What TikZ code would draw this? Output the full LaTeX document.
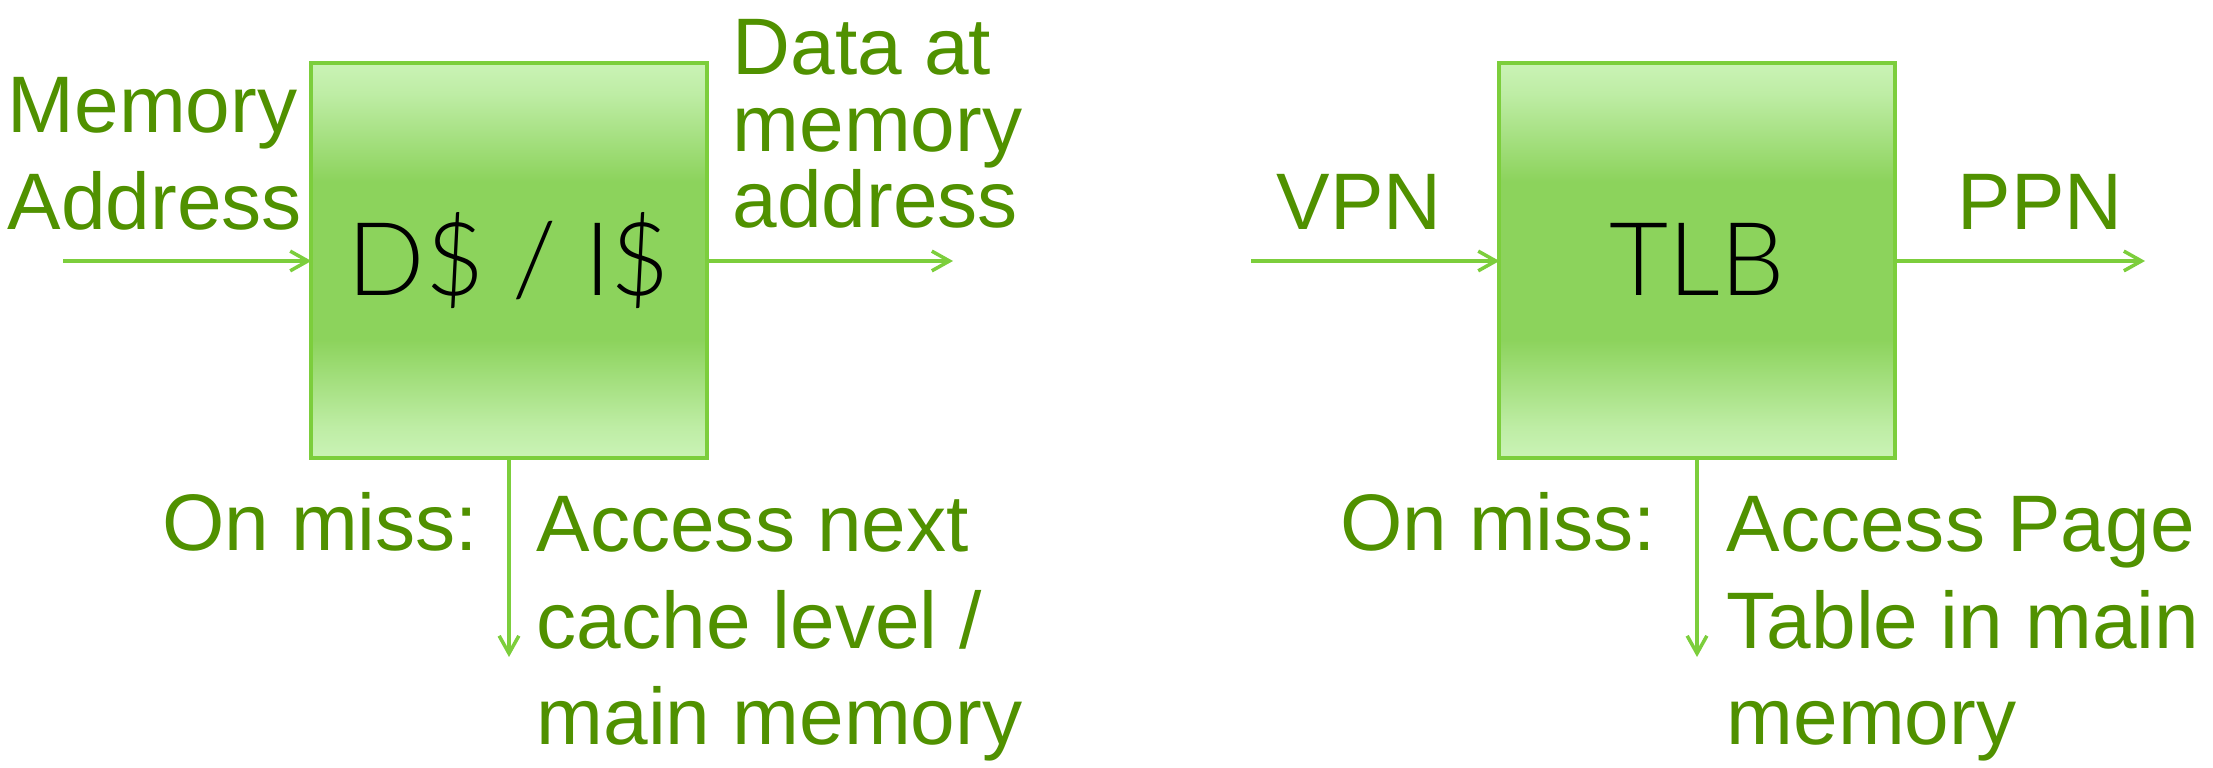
\documentclass[tikz,border=0pt]{standalone}
\usepackage{fontspec}
\setmainfont{Liberation Sans}
\newfontfamily\thinfont{Lato Light}
\usetikzlibrary{arrows.meta}
\definecolor{txtgreen}{RGB}{80,145,0}
\definecolor{linegreen}{RGB}{124,206,60}
\definecolor{lightg}{RGB}{202,243,182}
\definecolor{midg}{RGB}{140,211,92}
\pgfdeclareverticalshading{boxshade}{100bp}{color(0bp)=(lightg); color(25bp)=(lightg); color(29bp)=(lightg!80!midg); color(40bp)=(midg); color(60bp)=(midg); color(71bp)=(lightg!80!midg); color(75bp)=(lightg); color(100bp)=(lightg)}
\tikzset{
  cachebox/.style={draw=linegreen, line width=1.1pt, shading=boxshade, minimum width=3.95cm, minimum height=3.94cm, inner sep=0pt, outer sep=0pt},
  boxtext/.style={font=\thinfont\fontsize{29}{34}\selectfont, text=black, inner sep=0pt},
  lbl/.style={font=\fontsize{22.8}{27.8}\selectfont, text=txtgreen, inner sep=0pt, align=left},
  flow/.style={draw=linegreen, line width=1pt, -{Straight Barb[length=5pt, width=5.6pt, line width=1pt]}}
}
\begin{document}
\begin{tikzpicture}[x=0.01cm, y=-0.01cm]
\useasboundingbox (0,0) rectangle (2213,768);
% left diagram
\node[cachebox] (cache) at (509,260.5) {};
\node[boxtext, anchor=base] (cachetxt) at (509,296) {D\$ / I\$};
\coordinate (cin) at (63,261);
\coordinate (cout) at (953,261);
\coordinate (cdown) at (509,657);
\draw[flow] (cin) -- (cin -| cache.west);
\draw[flow] (cin -| cache.east) -- (cout);
\draw[flow] (cache.south) -- (cdown);
% base anchor of multi-line nodes = baseline of last line
\node[lbl, anchor=base west] (memaddr) at (7,230) {Memory\\Address};
\node[lbl, anchor=base west, font=\fontsize{22.8}{21.8}\selectfont] (dataat) at (732,228) {Data at\\memory\\address};
\node[lbl, anchor=base east] (miss1) at (479,551) {On miss:};
\node[lbl, anchor=base west, font=\fontsize{22.8}{27.5}\selectfont] (acc1) at (536,745) {Access next\\cache level /\\main memory};
% right diagram
\node[cachebox] (tlb) at (1697,260.5) {};
\node[boxtext, anchor=base] (tlbtxt) at (1697,296) {TLB};
\coordinate (tin) at (1251,261);
\coordinate (tout) at (2145,261);
\coordinate (tdown) at (1697,657);
\draw[flow] (tin) -- (tin -| tlb.west);
\draw[flow] (tin -| tlb.east) -- (tout);
\draw[flow] (tlb.south) -- (tdown);
\node[lbl, anchor=base] (vpn) at (1359,230) {VPN};
\node[lbl, anchor=base] (ppn) at (2040,230) {PPN};
\node[lbl, anchor=base east] (miss2) at (1657,551) {On miss:};
\node[lbl, anchor=base west, font=\fontsize{22.8}{27.5}\selectfont] (acc2) at (1726,745) {Access Page\\Table in main\\memory};
\end{tikzpicture}
\end{document}
